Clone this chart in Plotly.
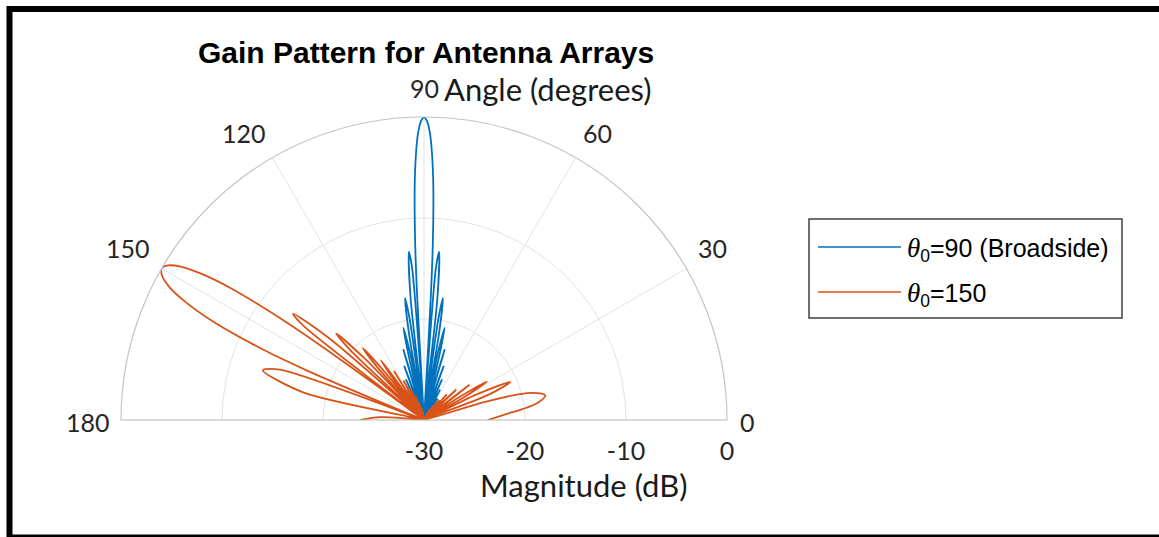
import plotly.graph_objects as go

# Array gain patterns (dB), angle in degrees, radial scale clipped at -30 dB
broadside_theta = [
    0, 28.96, 32.46, 35.66, 38.62, 41.41, 44.05, 46.57, 48.99, 51.32,
    53.58, 55.77, 57.91, 60.00, 62.05, 64.06, 66.03, 67.98, 69.89, 71.79,
    73.67, 75.52, 76.44, 77.36, 78.28, 79.19, 80.10, 81.15, 81.92, 82.82,
    83.74, 84.87, 85.53, 86.42,
    86.56, 86.85, 87.13, 87.71, 88.28, 88.85, 89.43, 90.00,
    90.57, 91.15, 91.72, 92.29, 92.87, 93.15, 93.44,
    93.58, 94.47, 95.13, 96.26, 97.18, 98.08, 98.85, 99.90, 100.81, 101.72,
    102.64, 103.56, 104.48, 106.33, 108.21, 110.11, 112.02, 113.97, 115.94, 117.95,
    120.00, 122.09, 124.23, 126.42, 128.68, 131.01, 133.43, 135.95, 138.59, 141.38,
    144.34, 147.54, 151.04, 180,
]
broadside_db = [
    -30, -30, -29.85, -30, -29.6, -30, -29.2, -30, -28.8, -30,
    -28.2, -30, -27.5, -30, -26.6, -30, -25.6, -30, -24.3, -30,
    -22.7, -30, -24.2, -20.65, -23.05, -30, -21.6, -17.8, -19.9, -30,
    -17.8, -13.3, -14.9, -30,
    -27.6, -17.5, -12.6, -6.9, -3.6, -1.5, -0.4, 0,
    -0.4, -1.5, -3.6, -6.9, -12.6, -17.5, -27.6,
    -30, -14.9, -13.3, -17.8, -30, -19.9, -17.8, -21.6, -30, -23.05,
    -20.65, -24.2, -30, -22.7, -30, -24.3, -30, -25.6, -30, -26.6,
    -30, -27.5, -30, -28.2, -30, -28.8, -30, -29.2, -30, -29.6,
    -30, -29.85, -30, -30,
]

steered_theta = [
    0, 4.44, 6.28, 8.50, 11.50, 14.30, 16.46, 18.82,
    21.42, 23.75, 25.89, 27.86,
    29.77, 31.48, 33.18, 34.77,
    37.79, 40.62, 43.30, 45.85, 48.30, 50.65, 52.93, 55.15, 57.30, 59.40,
    61.46, 63.48, 65.46, 67.42, 69.34, 71.25, 73.13, 74.99,
    89.48, 91.27, 93.07, 94.86, 96.66, 98.47, 100.28, 102.11, 103.95, 105.80,
    107.67, 109.56, 111.47, 113.41, 115.37, 117.37, 119.41, 121.49, 123.61,
    124.69, 125.79, 126.90, 128.02,
    129.17, 130.33, 131.52, 132.73,
    133.95, 135.42, 136.50, 137.82,
    139.17, 140.95, 141.99, 143.47,
    143.71, 144.20, 144.69, 145.69, 146.72, 147.78, 148.87, 150.00,
    151.17, 152.38, 153.64, 154.96, 156.36, 157.07, 157.82, 158.20,
    160.74, 162.83, 167.16, 172.32,
    174.87, 176.38, 180,
]
steered_db = [
    -23.7, -21.6, -20.2, -18.65, -17.75, -19.1, -23.4, -30,
    -23.05, -20.65, -24.2, -30,
    -25.3, -22.7, -26.2, -30,
    -24.3, -30, -25.6, -30, -26.6, -30, -27.5, -30, -28.2, -30,
    -28.8, -30, -29.2, -30, -29.6, -30, -29.8, -30,
    -30, -29.8, -30, -29.6, -30, -29.2, -30, -28.8, -30, -28.2,
    -30, -27.5, -30, -26.6, -30, -25.6, -30, -24.3, -30,
    -26.2, -22.7, -25.3, -30,
    -24.2, -20.65, -23.05, -30,
    -21.6, -17.8, -19.9, -30,
    -17.8, -13.3, -14.9, -30,
    -27.6, -17.5, -12.6, -6.9, -3.6, -1.5, -0.4, 0,
    -0.4, -1.5, -3.6, -6.9, -12.6, -17.5, -27.6, -30,
    -14.9, -13.3, -17.8, -30,
    -28.3, -25.6, -23.7,
]
assert len(broadside_theta) == len(broadside_db)
assert len(steered_theta) == len(steered_db)

angle_ticks = [0, 30, 60, 90, 120, 150, 180]
mag_ticks = [-30, -20, -10, 0]
series_names = ["θ0=90 (Broadside)", "θ0=150"]
theta_sym = "<span style=\"font-family:'Liberation Serif';font-size:27px\"><i>θ</i></span>"
legend_labels = [
    theta_sym + "<sub>0</sub>=90 (Broadside)",
    theta_sym + "<sub>0</sub>=150",
]
colors = ["#0072BD", "#D95319"]

W, H = 1159, 537


def px(x):
    return x / W


def py(y):
    return 1 - y / H


fig = go.Figure()
for th, db, name, col in [
    (broadside_theta, broadside_db, series_names[0], colors[0]),
    (steered_theta, steered_db, series_names[1], colors[1]),
]:
    fig.add_trace(go.Scatterpolar(
        theta=th, r=db, mode="lines", name=name,
        line=dict(color=col, width=1.8, shape="spline", smoothing=0.9),
        showlegend=False,
    ))

tick_font = dict(family="Lato, Open Sans, sans-serif", size=25, color="#262626")
label_font = dict(family="Lato, Open Sans, sans-serif", size=31, color="#1a1a1a")

fig.update_layout(
    width=W, height=H, autosize=False,
    margin=dict(l=0, r=0, t=0, b=0),
    paper_bgcolor="white",
    polar=dict(
        domain=dict(x=[px(121), px(727)], y=[py(420), py(117)]),
        sector=[0, 180],
        bgcolor="white",
        angularaxis=dict(
            direction="counterclockwise", rotation=0,
            tickmode="array", tickvals=angle_ticks,
            showticklabels=False, ticks="",
            showline=True, linecolor="#c4c4c4", linewidth=1.2,
            gridcolor="#e2e2e2", gridwidth=1,
        ),
        radialaxis=dict(
            range=[-30, 0], angle=0, side="clockwise",
            tickmode="array", tickvals=mag_ticks,
            ticktext=[str(v) for v in mag_ticks],
            ticks="outside", ticklen=9, tickcolor="rgba(0,0,0,0)",
            showline=False, gridcolor="#e2e2e2", gridwidth=1,
            tickfont=tick_font, tickangle=0,
        ),
    ),
)

# Angle labels sit just outside the rim
angle_label_pos = {0: (747, 422), 30: (713, 248), 60: (597, 133), 90: (424, 88),
                   120: (244, 133), 150: (128, 248), 180: (88, 422)}

annotations = [
    dict(x=px(426), y=py(52), text="<b>Gain Pattern for Antenna Arrays</b>",
         font=dict(family="Liberation Sans, Arial, sans-serif", size=30, color="black"),
         xanchor="center", yanchor="middle"),
    dict(x=px(442), y=py(89), text="Angle (degrees)", font=label_font,
         xanchor="left", yanchor="middle"),
    dict(x=px(583), y=py(485), text="Magnitude (dB)", font=label_font,
         xanchor="center", yanchor="middle"),
]
for a in angle_ticks:
    lx, ly = angle_label_pos[a]
    annotations.append(dict(x=px(lx), y=py(ly), text=str(a), font=tick_font,
                            xanchor="center", yanchor="middle"))

legend_y = [247, 292]
for lab, col, yy in zip(legend_labels, colors, legend_y):
    annotations.append(dict(
        x=px(905), y=py(yy + 2), text=lab, xanchor="left", yanchor="middle",
        font=dict(family="Liberation Sans, Arial, sans-serif", size=25, color="black"),
    ))

shapes = [
    # legend frame
    dict(type="rect", xref="paper", yref="paper",
         x0=px(809), x1=px(1122), y0=py(318), y1=py(219),
         line=dict(color="#404040", width=1.5), fillcolor="rgba(0,0,0,0)"),
    # outer picture frame
    dict(type="rect", xref="paper", yref="paper",
         x0=px(9.5), x1=px(1164), y0=py(537.5), y1=py(9),
         line=dict(color="black", width=6), fillcolor="rgba(0,0,0,0)"),
]
for col, yy in zip(colors, legend_y):
    shapes.append(dict(type="line", xref="paper", yref="paper",
                       x0=px(818), x1=px(901), y0=py(yy), y1=py(yy),
                       line=dict(color=col, width=1.5)))

fig.update_layout(annotations=annotations, shapes=shapes)
for a in fig.layout.annotations:
    a.update(xref="paper", yref="paper", showarrow=False)

fig.write_html("out.html")
